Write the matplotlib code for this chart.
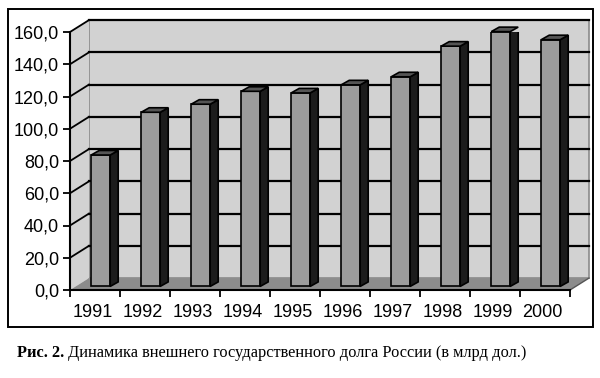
import numpy as np
import matplotlib.pyplot as plt
from matplotlib.patches import Polygon, Rectangle

# data
years = ['1991', '1992', '1993', '1994', '1995', '1996', '1997', '1998', '1999', '2000']
debt = [81.5, 108.0, 113.0, 121.0, 120.0, 125.0, 130.0, 149.0, 158.0, 153.0]
yticks = [0, 20, 40, 60, 80, 100, 120, 140, 160]
caption_bold = 'Рис. 2.'
caption_text = ' Динамика внешнего государственного долга России (в млрд дол.)'

# pseudo-3d geometry (in data units)
DX, DY = 0.38, 7.4          # depth of the box
BF = 0.3                    # bar front plane, fraction of depth
BW = 0.38                   # bar face width
BDX, BDY = 0.16, 2.8        # bar depth

WALL = '#d2d2d2'
FLOOR = '#8c8c8c'
FRONT = '#9c9c9c'
SIDE = '#1c1c1c'
TOP = '#555555'

plt.rcParams['font.family'] = ['Liberation Sans', 'DejaVu Sans']

fig = plt.figure(figsize=(6, 3.78), dpi=100)
ax = fig.add_axes([70/600, 88/378, 500/600, 258/378])
ax.set_xlim(0, len(years))
ax.set_ylim(0, 160)
ax.patch.set_visible(False)

n = len(years)
ymax = yticks[-1]

# back wall, left wall, floor
ax.add_patch(Polygon([(DX, DY), (n + DX, DY), (n + DX, ymax + DY), (DX, ymax + DY)],
                     closed=True, fc=WALL, ec='#8a8a8a', lw=1.2, clip_on=False, zorder=0))
ax.add_patch(Polygon([(0, 0), (DX, DY), (DX, ymax + DY), (0, ymax)],
                     closed=True, fc=WALL, ec='none', clip_on=False, zorder=0))
ax.add_patch(Polygon([(0, 0), (n, 0), (n + DX, DY), (DX, DY)],
                     closed=True, fc=FLOOR, ec='none', clip_on=False, zorder=0.5))
ax.plot([n, n + DX], [0, DY], color='#555555', lw=1, clip_on=False, zorder=0.6)

# gridlines on back and left walls
for v in yticks[1:]:
    ax.plot([DX, n + DX], [v + DY, v + DY], color='black', lw=1.6, clip_on=False, zorder=0.3)
    ax.plot([0, DX], [v, v + DY], color='black', lw=1.3, clip_on=False, zorder=0.3)

# bars
for i, v in enumerate(debt):
    x0 = i + 0.5 + BF * DX - BW / 2
    y0 = BF * DY
    ax.add_patch(Rectangle((x0, y0), BW, v, fc=FRONT, ec='black', lw=1.2, zorder=2))
    ax.add_patch(Polygon([(x0 + BW, y0), (x0 + BW + BDX, y0 + BDY),
                          (x0 + BW + BDX, y0 + v + BDY), (x0 + BW, y0 + v)],
                         closed=True, fc=SIDE, ec='black', lw=1.2, zorder=2))
    ax.add_patch(Polygon([(x0, y0 + v), (x0 + BW, y0 + v),
                          (x0 + BW + BDX, y0 + v + BDY), (x0 + BDX, y0 + v + BDY)],
                         closed=True, fc=TOP, ec='black', lw=1.2, zorder=2.1, clip_on=False))

# front axes
for s in ['top', 'right']:
    ax.spines[s].set_visible(False)
for s in ['left', 'bottom']:
    ax.spines[s].set_linewidth(1.5)
    ax.spines[s].set_zorder(3)
ax.set_yticks(yticks)
ax.set_yticklabels([f'{v:.1f}'.replace('.', ',') for v in yticks], fontsize=13)
ax.set_xticks(np.arange(n) + 0.45)
ax.set_xticklabels(years, fontsize=13)
ax.set_xticks(np.arange(n + 1), minor=True)
ax.tick_params(axis='x', which='major', length=0, pad=10)
ax.tick_params(axis='x', which='minor', length=5, width=1.3, direction='out')
ax.tick_params(axis='y', length=5, width=1.3, direction='out', pad=3)

# outer frame
fig.add_artist(Rectangle((8/600, 1 - 327/378), 585/600, 318/378, transform=fig.transFigure,
                         fill=False, ec='black', lw=1.4))

# caption
fig.canvas.draw()
t1 = fig.text(17/600, 1 - 353/378, caption_bold, family=['Liberation Serif', 'DejaVu Serif'],
              fontsize=11.8, fontweight='bold', va='center')
fig.canvas.draw()
bb = t1.get_window_extent()
fig.text(bb.x1 / fig.bbox.width, 1 - 353/378, caption_text,
         family=['Liberation Serif', 'DejaVu Serif'], fontsize=11.8, va='center')

fig.savefig('out.png', dpi=100, facecolor='white')
